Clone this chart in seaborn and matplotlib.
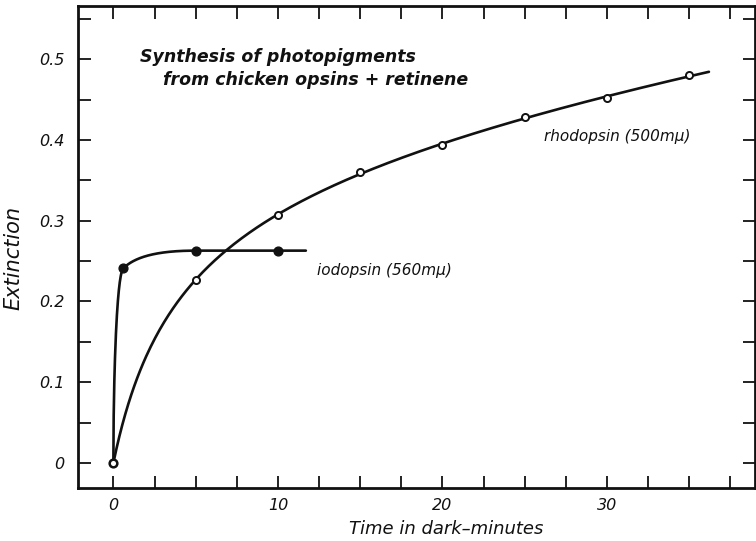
import numpy as np
import pandas as pd
import matplotlib
matplotlib.use("Agg")
import matplotlib.pyplot as plt
import seaborn as sns
from matplotlib.ticker import MultipleLocator, FixedLocator, FixedFormatter

# ---- data ----
rhod_t = [0, 5, 10, 15, 20, 25, 30, 35]
rhod_ext = [0.0, 0.227, 0.307, 0.360, 0.394, 0.428, 0.452, 0.480]
iodo_t = [0, 0.6, 5, 10]
iodo_ext = [0.0, 0.241, 0.263, 0.263]
RHOD_END = 36.2   # drawn curve extends a bit past last point
IODO_END = 11.7

xtick_vals = [0, 10, 20, 30]
xtick_labels = ["0", "10", "20", "30"]
ytick_vals = [0, 0.1, 0.2, 0.3, 0.4, 0.5]
ytick_labels = ["0", "0.1", "0.2", "0.3", "0.4", "0.5"]

INK = "#111111"


def pchip(x, y, xq):
    x = np.asarray(x, float); y = np.asarray(y, float); xq = np.asarray(xq, float)
    h = np.diff(x); d = np.diff(y) / h
    n = len(x); m = np.zeros(n)
    for k in range(1, n - 1):
        if d[k - 1] * d[k] <= 0:
            m[k] = 0.0
        else:
            w1 = 2 * h[k] + h[k - 1]; w2 = h[k] + 2 * h[k - 1]
            m[k] = (w1 + w2) / (w1 / d[k - 1] + w2 / d[k])
    def endslope(h0, h1, d0, d1):
        s = ((2 * h0 + h1) * d0 - h0 * d1) / (h0 + h1)
        if np.sign(s) != np.sign(d0):
            s = 0.0
        elif np.sign(d0) != np.sign(d1) and abs(s) > abs(3 * d0):
            s = 3 * d0
        return s
    m[0] = endslope(h[0], h[1], d[0], d[1])
    m[-1] = endslope(h[-1], h[-2], d[-1], d[-2])
    idx = np.clip(np.searchsorted(x, xq) - 1, 0, n - 2)
    hh = h[idx]; s = (xq - x[idx]) / hh
    h00 = 2 * s**3 - 3 * s**2 + 1; h10 = s**3 - 2 * s**2 + s
    h01 = -2 * s**3 + 3 * s**2; h11 = s**3 - s**2
    return h00 * y[idx] + h10 * hh * m[idx] + h01 * y[idx + 1] + h11 * hh * m[idx + 1]


# smooth guide curve for rhodopsin: least-squares cubic in log-time
def logt(t):
    return np.log1p(np.asarray(t, float) / 3.0)

w = np.ones(len(rhod_t)); w[0] = 6.0
coef = np.polyfit(logt(rhod_t), rhod_ext, 3, w=w)
tr = np.linspace(0, RHOD_END, 400)
rhod_curve = np.polyval(coef, logt(tr))
rhod_curve = rhod_curve - np.polyval(coef, 0.0)  # start at the origin point

# iodopsin: monotone interpolation in sqrt-time
ti = np.linspace(0, IODO_END, 600)
iodo_curve = pchip(np.sqrt(iodo_t), iodo_ext, np.sqrt(ti))

curves = pd.concat([
    pd.DataFrame({"t": tr, "ext": rhod_curve, "pigment": "rhodopsin"}),
    pd.DataFrame({"t": ti, "ext": iodo_curve, "pigment": "iodopsin"}),
])
pts_r = pd.DataFrame({"t": rhod_t, "ext": rhod_ext})
pts_i = pd.DataFrame({"t": iodo_t, "ext": iodo_ext})

sns.set_style("ticks")
plt.rcParams["font.family"] = ["DejaVu Sans"]
plt.rcParams["font.style"] = "italic"

fig = plt.figure(figsize=(7.56, 5.41), dpi=100)
ax = fig.add_axes([78 / 756, 1 - 488 / 541, (755 - 78) / 756, (488 - 6) / 541])

sns.lineplot(data=curves, x="t", y="ext", hue="pigment", units="pigment",
             estimator=None, sort=False, palette={"rhodopsin": INK, "iodopsin": INK},
             linewidth=1.9, legend=False, ax=ax)
sns.scatterplot(data=pts_i, x="t", y="ext", color=INK, s=40,
                edgecolor=INK, linewidth=1.0, zorder=5, ax=ax, legend=False)
sns.scatterplot(data=pts_r, x="t", y="ext", color="white", s=26,
                edgecolor=INK, linewidth=1.4, zorder=6, ax=ax, legend=False)

ax.set_xlim(-2.15, 39.0)
ax.set_ylim(-0.031, 0.566)

ax.xaxis.set_major_locator(FixedLocator(xtick_vals))
ax.xaxis.set_major_formatter(FixedFormatter(xtick_labels))
ax.xaxis.set_minor_locator(MultipleLocator(2.5))
ax.yaxis.set_major_locator(FixedLocator(ytick_vals))
ax.yaxis.set_major_formatter(FixedFormatter(ytick_labels))
ax.yaxis.set_minor_locator(MultipleLocator(0.05))

for sp in ax.spines.values():
    sp.set_linewidth(2.0)
    sp.set_color(INK)
ax.tick_params(which="both", direction="in", top=True, right=True,
               length=9, width=1.3, color=INK, labelcolor=INK)
ax.tick_params(axis="x", which="major", pad=7, labelsize=11.5)
ax.tick_params(axis="y", which="major", pad=10, labelsize=11.5)
for lab in ax.get_xticklabels() + ax.get_yticklabels():
    lab.set_fontstyle("italic")

ax.set_xlabel("Time in dark\u2013minutes", fontsize=13, fontstyle="italic", color=INK)
ax.set_ylabel("Extinction", fontsize=15, fontstyle="italic", color=INK)
ax.xaxis.set_label_coords((446 - 78) / 677, -0.066)
ax.yaxis.set_label_coords(-0.08, 0.477)

ax.text(1.6, 0.503, "Synthesis of photopigments", fontsize=12.5, fontweight="bold",
        fontstyle="italic", ha="left", va="center", color=INK)
ax.text(3.0, 0.474, "from chicken opsins + retinene", fontsize=12.5, fontweight="bold",
        fontstyle="italic", ha="left", va="center", color=INK)
ax.text(26.2, 0.404, "rhodopsin (500m\u03bc)", fontsize=11, fontstyle="italic",
        ha="left", va="center", color=INK)
ax.text(12.4, 0.239, "iodopsin (560m\u03bc)", fontsize=11, fontstyle="italic",
        ha="left", va="center", color=INK)

fig.savefig("out.png", dpi=100)
